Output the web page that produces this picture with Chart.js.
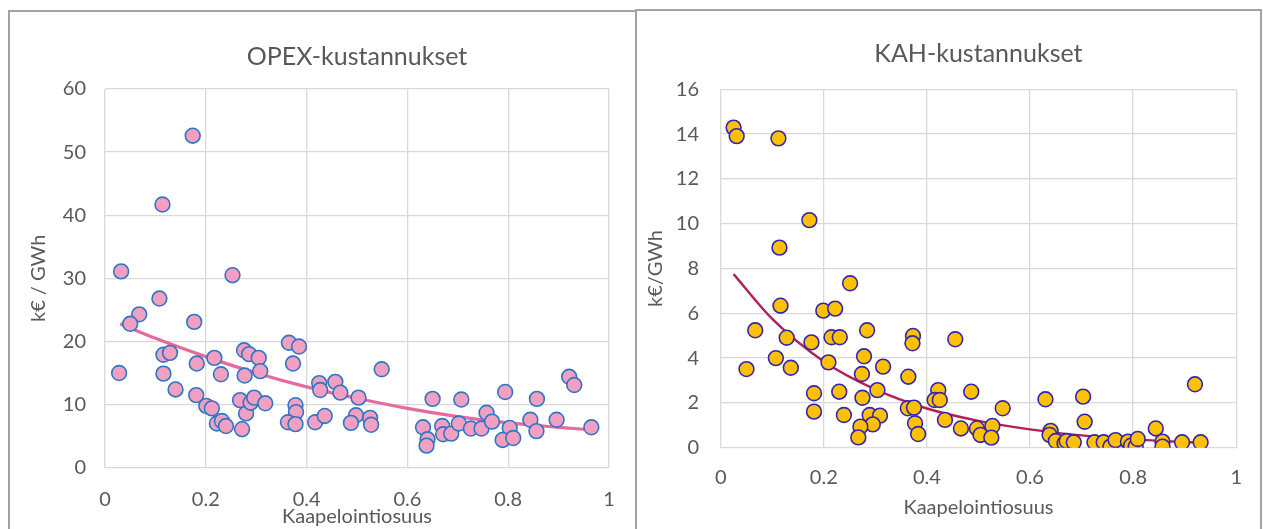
<!DOCTYPE html>
<html>
<head>
<meta charset="utf-8">
<script src="https://cdn.jsdelivr.net/npm/chart.js@4/dist/chart.umd.min.js"></script>
<style>
  body { margin: 0; background: #fff; width: 1263px; height: 529px; overflow: hidden; position: relative; }
  .panel { position: absolute; border: 2px solid #a3a3a3; background: #fff; box-sizing: border-box; }
  canvas { position: absolute; }
</style>
</head>
<body>
<div class="panel" style="left:8px; top:10px; width:629px; height:600px;"></div>
<div class="panel" style="left:635px; top:9px; width:627px; height:600px;"></div>
<canvas id="opex" style="left:10px; top:12px;"></canvas>
<canvas id="kah" style="left:637px; top:11px;"></canvas>
<script>
'use strict';

// OPEX-kustannukset, pisteet (kaapelointiosuus, k€/GWh)
const opexX = [0.174, 0.114, 0.032, 0.253, 0.108, 0.068, 0.050, 0.177, 0.028, 0.116,
  0.129, 0.182, 0.116, 0.140, 0.181, 0.217, 0.230, 0.201, 0.212, 0.222,
  0.232, 0.240, 0.272, 0.276, 0.286, 0.305, 0.308, 0.277, 0.268, 0.280,
  0.289, 0.296, 0.318, 0.365, 0.385, 0.373, 0.378, 0.379, 0.363, 0.378,
  0.417, 0.436, 0.425, 0.427, 0.457, 0.467, 0.549, 0.503, 0.498, 0.488,
  0.526, 0.528, 0.650, 0.631, 0.640, 0.638, 0.669, 0.671, 0.687, 0.702,
  0.707, 0.726, 0.747, 0.757, 0.768, 0.794, 0.803, 0.789, 0.810, 0.844,
  0.857, 0.856, 0.896, 0.921, 0.931, 0.965];
const opexY = [52.6, 41.7, 31.1, 30.5, 26.8, 24.3, 22.8, 23.1, 15.0, 17.9,
  18.2, 16.5, 14.9, 12.4, 11.5, 17.4, 14.8, 9.8, 9.4, 7.0,
  7.4, 6.6, 6.1, 18.6, 18.0, 17.4, 15.3, 14.6, 10.7, 8.6,
  10.3, 11.1, 10.2, 19.8, 19.2, 16.5, 9.9, 8.8, 7.2, 6.9,
  7.2, 8.2, 13.4, 12.3, 13.6, 11.9, 15.6, 11.1, 8.3, 7.1,
  7.9, 6.8, 10.9, 6.4, 4.5, 3.5, 6.6, 5.3, 5.4, 7.0,
  10.8, 6.2, 6.2, 8.7, 7.3, 12.0, 6.3, 4.4, 4.7, 7.6,
  10.9, 5.8, 7.6, 14.4, 13.1, 6.4];

// OPEX trendiviiva, luettu kuvasta
const opexTrendX = [0.03, 0.1, 0.2, 0.3, 0.4, 0.5, 0.6, 0.7, 0.8, 0.9, 0.965];
const opexTrendY = [22.8, 20.5, 17.6, 15.0, 12.8, 11.0, 9.4, 8.1, 7.1, 6.4, 6.0];

// KAH-kustannukset, pisteet
const kahX = [0.025, 0.031, 0.112, 0.172, 0.114, 0.251, 0.116, 0.199, 0.222, 0.067,
  0.128, 0.176, 0.215, 0.231, 0.284, 0.373, 0.372, 0.455, 0.050, 0.107,
  0.136, 0.209, 0.278, 0.274, 0.315, 0.364, 0.181, 0.181, 0.230, 0.275,
  0.304, 0.239, 0.289, 0.309, 0.295, 0.271, 0.267, 0.363, 0.375, 0.377,
  0.383, 0.422, 0.415, 0.425, 0.435, 0.486, 0.466, 0.547, 0.497, 0.504,
  0.527, 0.525, 0.630, 0.703, 0.706, 0.640, 0.638, 0.650, 0.667, 0.671,
  0.685, 0.725, 0.743, 0.756, 0.766, 0.790, 0.796, 0.805, 0.809, 0.844,
  0.857, 0.857, 0.895, 0.920, 0.931];
const kahY = [14.29, 13.91, 13.81, 10.16, 8.93, 7.34, 6.34, 6.12, 6.21, 5.24,
  4.91, 4.70, 4.93, 4.93, 5.24, 4.99, 4.66, 4.84, 3.51, 4.00,
  3.57, 3.81, 4.08, 3.29, 3.62, 3.17, 2.43, 1.61, 2.50, 2.23,
  2.57, 1.46, 1.46, 1.43, 1.04, 0.94, 0.46, 1.76, 1.79, 1.09,
  0.61, 2.57, 2.13, 2.13, 1.24, 2.50, 0.86, 1.76, 0.86, 0.57,
  0.97, 0.45, 2.16, 2.28, 1.16, 0.75, 0.57, 0.30, 0.20, 0.30,
  0.24, 0.24, 0.24, 0.05, 0.34, 0.27, 0.09, 0.05, 0.39, 0.86,
  0.27, 0.05, 0.24, 2.83, 0.24];

const kahTrendX = [0.025, 0.1, 0.2, 0.3, 0.4, 0.5, 0.6, 0.7, 0.8, 0.93];
const kahTrendY = [7.75, 5.75, 3.85, 2.6, 1.75, 1.2, 0.82, 0.55, 0.37, 0.22];

const TEXT = '#595959';
const GRID = '#d9d9d9';
const FONT = 'Lato';

function pts(xs, ys) {
    return xs.map((x, i) => ({x: x, y: ys[i]}));
}

/**
 * Tekee yhden hajontakuvion
 */
function makeChart(id, cfg) {
    const canvas = document.getElementById(id);
    canvas.width = cfg.w;
    canvas.height = cfg.h;
    canvas.style.width = cfg.w + 'px';
    canvas.style.height = cfg.h + 'px';

    return new Chart(canvas.getContext('2d'), {
        type: 'scatter',
        data: {
            datasets: [{
                data: pts(cfg.xs, cfg.ys),
                backgroundColor: cfg.fill,
                borderColor: cfg.edge,
                borderWidth: 1.6,
                pointRadius: 7.4,
                order: 1
            }, {
                type: 'line',
                data: pts(cfg.tx, cfg.ty),
                borderColor: cfg.lineColor,
                borderWidth: cfg.lineWidth,
                pointRadius: 0,
                cubicInterpolationMode: 'monotone',
                fill: false,
                order: 2
            }]
        },
        options: {
            responsive: false,
            animation: false,
            layout: { padding: { left: 0, right: cfg.padRight, top: 0, bottom: 0 } },
            plugins: {
                legend: { display: false },
                tooltip: { enabled: false },
                title: {
                    display: true,
                    text: cfg.title,
                    fullSize: false,
                    color: TEXT,
                    font: { family: FONT, size: 25, weight: 'normal' },
                    padding: { top: cfg.titleTop, bottom: cfg.titleBottom }
                }
            },
            scales: {
                x: {
                    type: 'linear',
                    min: 0, max: 1,
                    afterFit: s => { s.height = cfg.xHeight; },
                    ticks: {
                        stepSize: 0.2,
                        color: TEXT,
                        padding: cfg.xTickPad,
                        font: { family: FONT, size: 20 },
                        callback: v => String(Math.round(v * 10) / 10)
                    },
                    grid: { color: GRID, lineWidth: 1.3, drawTicks: false },
                    border: { display: false },
                    title: {
                        display: true,
                        text: 'Kaapelointiosuus',
                        color: TEXT,
                        font: { family: FONT, size: 20 },
                        padding: { top: 0, bottom: cfg.xTitlePad }
                    }
                },
                y: {
                    min: 0, max: cfg.yMax,
                    afterFit: s => { s.width = cfg.yWidth; },
                    ticks: {
                        stepSize: cfg.yStep,
                        color: TEXT,
                        padding: cfg.yTickPad,
                        font: { family: FONT, size: 20 }
                    },
                    grid: { color: GRID, lineWidth: 1.3, drawTicks: false },
                    border: { display: false },
                    title: {
                        display: true,
                        text: cfg.yTitle,
                        color: TEXT,
                        font: { family: FONT, size: 20 },
                        padding: { top: cfg.yTitlePad, bottom: 0 }
                    }
                }
            }
        }
    });
}

makeChart('opex', {
    w: 625, h: 517,
    xs: opexX, ys: opexY, tx: opexTrendX, ty: opexTrendY,
    fill: '#f2a0c1', edge: '#2e75c6', lineColor: '#e8699c', lineWidth: 3.2,
    title: 'OPEX-kustannukset', yTitle: 'k€ / GWh',
    yMax: 60, yStep: 10,
    padRight: 26, titleTop: 30, titleBottom: 17,
    xHeight: 61.3, xTickPad: 20, xTitlePad: 0,
    yWidth: 95, yTickPad: 19, yTitlePad: 17
});

makeChart('kah', {
    w: 623, h: 518,
    xs: kahX, ys: kahY, tx: kahTrendX, ty: kahTrendY,
    fill: '#ffc000', edge: '#3024b0', lineColor: '#b41e5a', lineWidth: 2.4,
    title: 'KAH-kustannukset', yTitle: 'k€/GWh',
    yMax: 16, yStep: 2,
    padRight: 23, titleTop: 28, titleBottom: 20.3,
    xHeight: 81.3, xTickPad: 18, xTitlePad: 9,
    yWidth: 83.7, yTickPad: 21.7, yTitlePad: 7
});
</script>
</body>
</html>
